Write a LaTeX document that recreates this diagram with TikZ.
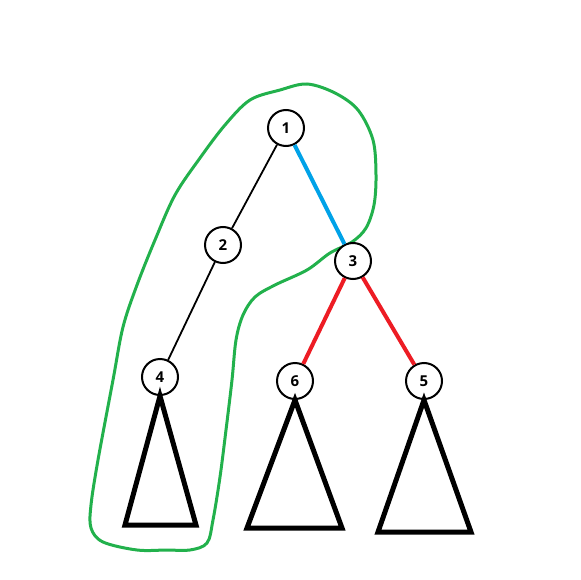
\documentclass[tikz,border=0pt]{standalone}
\usepackage{fontspec}
\setmainfont{Open Sans}
\definecolor{pgreen}{HTML}{22B14C}
\definecolor{pblue}{HTML}{00A2E8}
\definecolor{pred}{HTML}{ED1C24}
\begin{document}
\begin{tikzpicture}[x=1pt,y=-1pt,
  vtx/.style={circle,draw,line width=2pt,minimum size=36pt,inner sep=0pt,font=\fontsize{15}{15}\selectfont\bfseries,fill=white},
  thin edge/.style={line width=1.8pt},
  blue edge/.style={line width=4pt,pblue},
  red edge/.style={line width=4pt,pred},
  subtree/.style={line width=5pt,line join=miter},
  loopline/.style={line width=3pt,pgreen}]
\useasboundingbox (0,0) rectangle (580,580);
\draw[loopline] plot[smooth cycle,tension=0.55] coordinates{
 (113,380) (123,327) (137,285) (155,240) (175,195) (200,158) (225,125) (250,100) (280,90) (307,84) (335,93) (358,110) (373,140) (376,175) (374,205) (366,228) (352,242) (330,253) (307,270) (275,285) (255,297) (243,315) (236,340) (232,380) (226,430) (220,477) (213,520) (207,543) (190,550) (167,550) (137,550) (103,542) (91,528) (91,505) (98,460)};
\node[vtx] (n1) at (286,128) {1};
\node[vtx] (n2) at (223,245) {2};
\node[vtx] (n3) at (353,261) {3};
\node[vtx] (n4) at (160,377) {4};
\node[vtx] (n6) at (295,381) {6};
\node[vtx] (n5) at (424,381) {5};
\draw[thin edge] (n1) -- (n2);
\draw[thin edge] (n2) -- (n4);
\draw[blue edge] (n1) -- (n3);
\draw[red edge] (n3) -- (n6);
\draw[red edge] (n3) -- (n5);
\coordinate (a4) at (125,525); \coordinate (b4) at (196,525);
\coordinate (a6) at (247,528); \coordinate (b6) at (342,528);
\coordinate (a5) at (378,532); \coordinate (b5) at (471,532);
\draw[subtree] (n4.south) -- (a4) -- (b4) -- cycle;
\draw[subtree] (n6.south) -- (a6) -- (b6) -- cycle;
\draw[subtree] (n5.south) -- (a5) -- (b5) -- cycle;
\end{tikzpicture}
\end{document}
